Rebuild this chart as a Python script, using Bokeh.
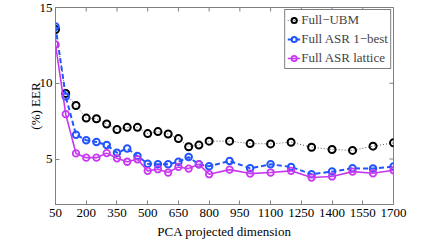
import math
from bokeh.plotting import figure
from bokeh.models import Range1d, FixedTicker, Legend, LegendItem
from bokeh.embed import file_html
from bokeh.resources import INLINE

dims = [50, 100, 150, 200, 250, 300, 350, 400, 450, 500, 550, 600, 650, 700, 750, 800,
        900, 1000, 1100, 1200, 1300, 1400, 1500, 1600, 1700]
full_ubm = [13.55, 9.33, 8.53, 7.70, 7.66, 7.31, 6.95, 7.09, 7.09, 6.68, 6.81, 6.65, 6.35, 5.81, 5.92, 6.18,
            6.18, 6.02, 6.00, 6.11, 5.78, 5.63, 5.57, 5.85, 6.07]
asr_1best = [13.75, 9.12, 6.61, 6.24, 6.13, 5.92, 5.41, 5.70, 5.20, 4.69, 4.65, 4.65, 4.82, 5.13, 4.65, 4.52,
             4.87, 4.39, 4.65, 4.48, 4.00, 4.17, 4.39, 4.37, 4.50]
asr_lattice = [12.56, 7.96, 5.37, 5.09, 5.09, 5.39, 5.05, 4.82, 4.98, 4.22, 4.33, 4.11, 4.48, 4.37, 4.65, 4.00,
               4.30, 4.04, 4.11, 4.22, 3.78, 3.85, 4.17, 4.06, 4.26]
x_ticks = [50, 200, 350, 500, 650, 800, 950, 1100, 1250, 1400, 1550, 1700]
y_ticks = [5, 10, 15]
labels = ["Full\u2212UBM", "Full ASR 1\u2212best", "Full ASR lattice"]

X_MIN, X_MAX = 50, 1700
Y_MIN, Y_MAX = 2, 15

FONT = "Liberation Serif"
GREY = "#808080"
BLUE = "#2255ff"
MAG = "#c838f0"

p = figure(frame_width=338, frame_height=197, output_backend="svg", toolbar_location=None,
           x_range=Range1d(X_MIN, X_MAX), y_range=Range1d(Y_MIN, Y_MAX),
           min_border_left=55, min_border_right=35, min_border_top=7, min_border_bottom=10,
           background_fill_color="white", border_fill_color="white")
p.outline_line_color = GREY
p.grid.visible = False

for ax in p.xaxis:
    ax.ticker = FixedTicker(ticks=x_ticks)
    ax.axis_label = "PCA projected dimension"
    ax.major_label_standoff = 4
    ax.axis_label_standoff = 4
for ax in p.yaxis:
    ax.ticker = FixedTicker(ticks=y_ticks)
    ax.axis_label = "(%) EER"
    ax.major_label_standoff = 3
    ax.axis_label_standoff = -6

for ax in list(p.xaxis) + list(p.yaxis):
    ax.axis_line_color = GREY
    ax.major_tick_line_color = GREY
    ax.major_tick_in = 4
    ax.major_tick_out = 0
    ax.minor_tick_line_color = None
    ax.major_label_text_font = FONT
    ax.major_label_text_font_size = "13px"
    ax.major_label_text_color = "black"
    ax.axis_label_text_font = FONT
    ax.axis_label_text_font_size = "13px"
    ax.axis_label_text_font_style = "normal"
    ax.axis_label_text_color = "black"

# mirrored inward ticks on the top and right edges of the box
p.ray(x=x_ticks, y=[Y_MAX] * len(x_ticks), length=4, length_units="screen",
      angle=-math.pi / 2, line_color=GREY, line_width=1)
p.ray(x=[X_MAX] * len(y_ticks), y=y_ticks, length=4, length_units="screen",
      angle=math.pi, line_color=GREY, line_width=1)

l1 = p.line(dims, full_ubm, line_color="#555555", line_width=1, line_dash="1 2")
s1 = p.scatter(dims, full_ubm, size=7, line_color="black", line_width=2, fill_color=None)
l2 = p.line(dims, asr_1best, line_color=BLUE, line_width=2, line_dash="5 3")
s2 = p.scatter(dims, asr_1best, size=6.5, line_color=BLUE, line_width=2, fill_color=None)
l3 = p.line(dims, asr_lattice, line_color=MAG, line_width=1.6)
s3 = p.scatter(dims, asr_lattice, size=6.5, line_color=MAG, line_width=1.8, fill_color=None)

legend = Legend(items=[LegendItem(label=labels[0], renderers=[l1, s1]),
                       LegendItem(label=labels[1], renderers=[l2, s2]),
                       LegendItem(label=labels[2], renderers=[l3, s3])],
                location="top_right", margin=2, padding=2, spacing=3,
                glyph_width=13, glyph_height=16, label_standoff=1,
                label_text_font=FONT, label_text_font_size="13px",
                label_height=16, border_line_color="black", border_line_width=1,
                background_fill_color="white", background_fill_alpha=1)
p.add_layout(legend, "center")

open("out.html", "w").write(file_html(p, INLINE))
